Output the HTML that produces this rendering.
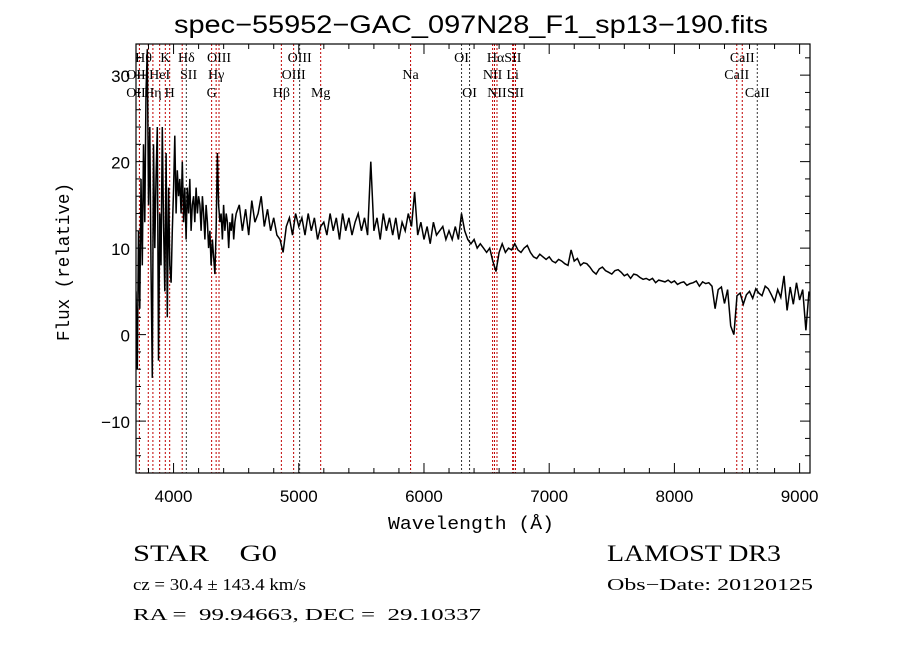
<!DOCTYPE html>
<html><head><meta charset="utf-8"><style>
html,body{margin:0;padding:0;background:#fff;}
svg{display:block;}
text{fill:#000;white-space:pre;}
</style></head><body>
<svg id="chart" width="900" height="649" viewBox="0 0 900 649" xmlns="http://www.w3.org/2000/svg" xml:space="preserve">
<rect x="0" y="0" width="900" height="649" fill="#fff"/>
<text x="174" y="33" font-family="Liberation Sans, sans-serif" font-size="25" textLength="594" lengthAdjust="spacingAndGlyphs">spec−55952−GAC_097N28_F1_sp13−190.fits</text>
<g id="lines"></g>
<g id="labels" font-family="Liberation Serif, serif" font-size="14" text-anchor="middle"></g>
<g id="series"></g>
<g id="axes"></g>
<text x="388" y="529" font-family="Liberation Mono, monospace" font-size="18" textLength="166" lengthAdjust="spacingAndGlyphs">Wavelength (Å)</text>
<text transform="translate(69,341) rotate(-90)" font-family="Liberation Mono, monospace" font-size="18" textLength="158" lengthAdjust="spacingAndGlyphs">Flux (relative)</text>
<text x="133" y="561" font-family="Liberation Serif, serif" font-size="23" textLength="144" lengthAdjust="spacingAndGlyphs">STAR    G0</text>
<text x="607" y="561" font-family="Liberation Serif, serif" font-size="23" textLength="174" lengthAdjust="spacingAndGlyphs">LAMOST DR3</text>
<text x="133" y="590" font-family="Liberation Serif, serif" font-size="17" textLength="173" lengthAdjust="spacingAndGlyphs">cz = 30.4 ± 143.4 km/s</text>
<text x="607" y="590" font-family="Liberation Serif, serif" font-size="17" textLength="206" lengthAdjust="spacingAndGlyphs">Obs−Date: 20120125</text>
<text x="133" y="620" font-family="Liberation Serif, serif" font-size="17" textLength="348" lengthAdjust="spacingAndGlyphs">RA =  99.94663, DEC =  29.10337</text>
</svg>
<script>
const wavelengths = [3700,3710,3720,3730,3740,3750,3760,3770,3780,3790,3800,3810,3820,3830,3840,3850,3860,3870,3880,3890,3900,3910,3920,3930,3940,3950,3960,3970,3980,3990,4000,4010,4020,4030,4040,4050,4060,4070,4080,4090,4100,4110,4120,4130,4140,4150,4160,4170,4180,4190,4200,4210,4220,4230,4240,4250,4260,4270,4280,4290,4300,4310,4320,4330,4340,4350,4360,4370,4380,4390,4400,4410,4420,4430,4440,4450,4460,4470,4480,4490,4500,
4525,4550,4575,4600,4625,4650,4675,4700,4725,4750,4775,4800,4825,4850,4875,4900,4925,4950,4975,5000,5025,5050,5075,5100,5125,5150,5175,5200,5225,5250,5275,5300,5325,5350,5375,5400,5425,5450,5475,5500,5525,5550,5575,5600,5625,5650,5675,5700,5725,5750,5775,5800,5825,5850,5875,5900,5925,5950,5975,6000,6025,6050,6075,6100,6125,6150,6175,6200,6225,6250,6275,6300,6325,6350,6375,6400,6425,6450,6475,6500,6525,6550,6575,6600,6625,6650,6675,6700,6725,6750,6775,6800,6825,6850,6875,6900,6925,6950,6975,7000,7025,7050,7075,7100,7125,7150,7175,7200,7225,7250,7275,7300,7325,7350,7375,7400,7425,7450,7475,7500,7525,7550,7575,7600,7625,7650,7675,7700,7725,7750,7775,7800,7825,7850,7875,7900,7925,7950,7975,8000,8025,8050,8075,8100,8125,8150,8175,8200,8225,8250,8275,8300,8325,8350,8375,8400,8425,8450,8475,8500,8525,8550,8575,8600,8625,8650,8675,8700,8725,8750,8775,8800,8825,8850,8875,8900,8925,8950,8975,9000,9025,9050,9075];
const flux = [5,-4,12,3,18,8,22,13,28,33,15,24,8,-5,22,10,18,24,-3,14,8,24,13,5,21,2,17,8,6,12,17,23,14,19,16,18,14,20,13,17,11,17,14,18,12,15,16,13,17,14,16,15,12,16,14,11,15,13,10,12,8,11,9,7,12,21,15,13,14,11,15,12,14,13,10,13,12,14,11,13,14,
15,12,14.5,11.5,15.5,13,14,16,12.5,14.5,12,13.5,11.5,11,9.5,12.5,13.5,11.5,14,12.5,13.5,11.5,14,12,13.5,11,12.5,13,11.5,14,12,13.5,11,14,12,13.5,11.5,13,14,12,13.5,11.5,20,12,13.5,11,14,12,13.5,11.5,13.5,11,13,12,14,12.5,16.5,11.5,13,11,12.5,10.5,13,11.5,12,12.5,11,12,11,12.5,11,14,12,11,10.5,11,10,10.5,10,9.5,10,8.5,7.3,9.5,10.5,9.5,10,9.8,10.5,9.8,9.5,10,10.3,9.5,9.0,8.8,9.3,9.0,8.7,9.0,8.5,8.3,8.7,8.5,8.2,8.0,9.8,8.5,8.8,8.0,8.3,8.2,7.8,7.3,7.0,7.6,7.8,7.4,7.2,7.0,7.4,7.5,7.2,6.8,7.0,6.5,7.0,6.9,6.6,6.4,6.5,6.3,6.5,6.0,6.3,6.2,6.1,6.3,6.0,6.2,5.8,6.0,6.1,5.7,5.9,6.0,6.2,5.6,6.1,5.9,6.0,5.6,3.0,5.2,5.5,3.6,5.2,1.0,0.0,4.5,4.8,3.5,4.6,5.0,4.2,5.3,4.8,4.5,5.6,5.3,4.6,3.8,5.2,4.3,6.8,2.8,5.5,3.5,6.0,4.0,5.2,0.5,5.0];
const lineWaves = [3727,3798,3835,3889,3934,3969,4069,4102,4304,4340,4363,4861,4959,5007,5175,5893,6300,6364,6548,6563,6583,6708,6716,6731,8498,8542,8662];
const lineKinds = ["r","r","r","r","r","r","r","k","r","r","r","r","r","k","r","r","k","k","r","r","r","r","r","r","r","r","k"];
const labelTexts = ["Hθ","K","Hδ","OIII","OIII","OI","HαSII","CaII","OII","HeI","SII","Hγ","OIII","Na","NII","Li","CaII","OII","Hη","H","G","Hβ","Mg","OI","NII","SII","CaII"];
const labelWaves = [3760,3934,4102,4363,5007,6300,6640,8542,3700,3889,4120,4340,4959,5893,6548,6708,8498,3700,3835,3969,4304,4861,5175,6364,6583,6731,8662];
const labelRows = [0,0,0,0,0,0,0,0,1,1,1,1,1,1,1,1,1,2,2,2,2,2,2,2,2,2,2];
const xTickLabels = [4000,5000,6000,7000,8000,9000];
const yTickLabels = [-10,0,10,20,30];

const NS = "http://www.w3.org/2000/svg";
const L = 136, R = 810, T = 44, B = 473;
const xMin = 3700, xMax = 9083, yMin = -16, yMax = 33.6;
const xs = w => L + (w - xMin) / (xMax - xMin) * (R - L);
const ys = v => B - (v - yMin) / (yMax - yMin) * (B - T);
function mk(tag, attrs, parent) {
  const e = document.createElementNS(NS, tag);
  for (const k in attrs) e.setAttribute(k, attrs[k]);
  parent.appendChild(e);
  return e;
}
const gl = document.getElementById('lines');
lineWaves.forEach((w, i) => {
  const ln = mk('line', {x1: xs(w), x2: xs(w), y1: T, y2: B, stroke: lineKinds[i] === 'r' ? '#c00000' : '#333', 'stroke-width': 1, 'stroke-dasharray': '2,2'}, gl);
  
  
});
const glab = document.getElementById('labels');
const rowY = [62, 79, 97];
labelTexts.forEach((t, i) => {
  const tx = mk('text', {x: xs(labelWaves[i]), y: rowY[labelRows[i]]}, glab);
  tx.textContent = t;
  
  
});
const gs = document.getElementById('series');
const clipd = mk('clipPath', {id: 'clipPlot'}, gs);
mk('rect', {x: L, y: T, width: R - L, height: B - T}, clipd);
const pts = wavelengths.map((w, i) => xs(w).toFixed(1) + ',' + ys(flux[i]).toFixed(1)).join(' ');
const pl = mk('polyline', {points: pts, fill: 'none', stroke: '#000', 'stroke-width': 1.5, 'clip-path': 'url(#clipPlot)'}, gs);


const ga = document.getElementById('axes');
const frame = mk('rect', {x: L, y: T, width: R - L, height: B - T, fill: 'none', stroke: '#000', 'stroke-width': 1.2}, ga);


for (let w = 3800; w <= 9000; w += 200) {
  const major = w % 1000 === 0;
  const len = major ? 10 : 5;
  mk('line', {x1: xs(w), x2: xs(w), y1: B, y2: B - len, stroke: '#000'}, ga);
  mk('line', {x1: xs(w), x2: xs(w), y1: T, y2: T + len, stroke: '#000'}, ga);
}
for (let v = -14; v <= 32; v += 2) {
  const major = v % 10 === 0;
  const len = major ? 10 : 5;
  mk('line', {x1: L, x2: L + len, y1: ys(v), y2: ys(v), stroke: '#000'}, ga);
  mk('line', {x1: R, x2: R - len, y1: ys(v), y2: ys(v), stroke: '#000'}, ga);
}
xTickLabels.forEach(v => {
  const t = mk('text', {x: xs(v), y: 502, 'text-anchor': 'middle', 'font-family': 'Liberation Sans, sans-serif', 'font-size': 17}, ga);
  t.textContent = v;
  
  
});
yTickLabels.forEach(v => {
  const t = mk('text', {x: 130, y: ys(v) + 7, 'text-anchor': 'end', 'font-family': 'Liberation Sans, sans-serif', 'font-size': 17}, ga);
  t.textContent = v < 0 ? '−' + Math.abs(v) : v;
  
  
});
</script>
</body></html>
